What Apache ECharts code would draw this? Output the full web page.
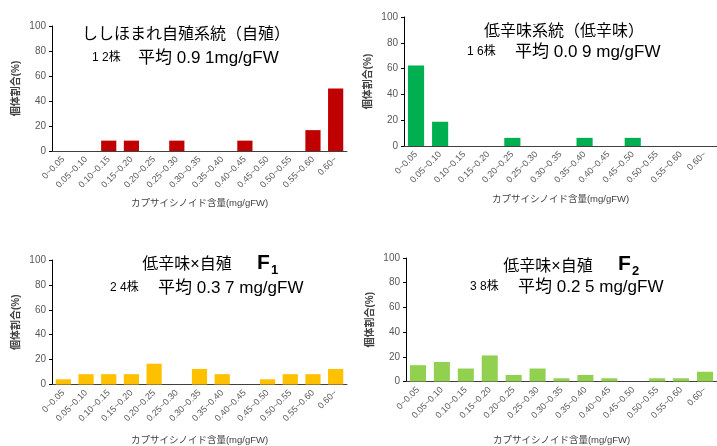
<!DOCTYPE html>
<html>
<head>
<meta charset="utf-8">
<style>
  html, body { margin: 0; padding: 0; background: #fff; }
  #chart { width: 717px; height: 446px; }
</style>
<script src="https://cdn.jsdelivr.net/npm/echarts@6/dist/echarts.min.js"></script>
</head>
<body>
<div id="chart"></div>
<script>
// Capsaicinoid content classes (mg/gFW)
const categories = ['0~0.05', '0.05~0.10', '0.10~0.15', '0.15~0.20', '0.20~0.25', '0.25~0.30',
  '0.30~0.35', '0.35~0.40', '0.40~0.45', '0.45~0.50', '0.50~0.55', '0.55~0.60', '0.60~'];

// Share of plants (%) in each class
const selfedLine = [0, 0, 8.3, 8.3, 0, 8.3, 0, 0, 8.3, 0, 0, 16.7, 50];
const lowPungentLine = [62.5, 18.8, 0, 0, 6.3, 0, 0, 6.3, 0, 6.3, 0, 0, 0];
const crossF1 = [4.2, 8.3, 8.3, 8.3, 16.7, 0, 12.5, 8.3, 0, 4.2, 8.3, 8.3, 12.5];
const crossF2 = [13.2, 15.8, 10.5, 21.1, 5.3, 10.5, 2.6, 5.3, 2.6, 0, 2.6, 2.6, 7.9];

const yTicks = { min: 0, max: 100, interval: 20 };

const xName = 'カプサイシノイド含量(mg/gFW)';
const yName = '個体割合(%)';

const FONT = '"Liberation Sans", Arial, "Noto Sans CJK JP", sans-serif';
const GREY = '#595959';

const panels = [
  { grid: { left: 52, top: 26, width: 295, height: 125 }, nameGap: 48, data: selfedLine, color: '#C00000' },
  { grid: { left: 404, top: 17, width: 316, height: 129 }, nameGap: 49, data: lowPungentLine, color: '#00B050' },
  { grid: { left: 52, top: 260, width: 295, height: 125 }, nameGap: 51, data: crossF1, color: '#FFC000' },
  { grid: { left: 406, top: 258, width: 317, height: 131 }, nameGap: 54, data: crossF2, color: '#92D050' }
];

const grids = [], xAxes = [], yAxes = [], series = [];
panels.forEach((p, i) => {
  grids.push(Object.assign({ containLabel: false }, p.grid));
  xAxes.push({
    type: 'category', gridIndex: i, data: categories,
    name: xName, nameLocation: 'middle', nameGap: p.nameGap,
    nameTextStyle: { fontFamily: FONT, fontSize: 9.5, color: '#404040' },
    axisLine: { lineStyle: { color: '#404040', width: 1 } },
    axisTick: { show: false },
    axisLabel: { rotate: 45, fontSize: 9, color: GREY, fontFamily: FONT, margin: 7, interval: 0 }
  });
  yAxes.push({
    type: 'value', gridIndex: i, min: yTicks.min, max: yTicks.max, interval: yTicks.interval,
    name: yName, nameLocation: 'middle', nameGap: 31, nameRotate: 90,
    nameTextStyle: { fontFamily: FONT, fontSize: 10, color: '#404040', fontWeight: 'bold' },
    axisLine: { show: true, lineStyle: { color: '#000', width: 1 } },
    axisTick: { show: true, length: 3, lineStyle: { color: '#000' } },
    splitLine: { show: false },
    axisLabel: { fontSize: 10, color: GREY, fontFamily: FONT, margin: 6 }
  });
  series.push({
    type: 'bar', xAxisIndex: i, yAxisIndex: i, data: p.data,
    barCategoryGap: '33%', itemStyle: { color: p.color },
    silent: true, animation: false
  });
});

// Panel headings
function txt(x, y, text, size, opts) {
  return {
    type: 'text', x: x, y: y, silent: true,
    style: {
      text: text, font: (opts && opts.weight || 'normal') + ' ' + size + 'px ' + FONT,
      fill: '#000', align: (opts && opts.align) || 'left', verticalAlign: 'middle'
    }
  };
}

const graphic = [
  txt(186, 35, 'ししほまれ自殖系統（自殖）', 16, { align: 'center' }),
  txt(92, 58, '1 2株', 12),
  txt(138, 58, '平均 0.9 1mg/gFW', 17),

  txt(564, 32, '低辛味系統（低辛味）', 16, { align: 'center' }),
  txt(467, 52, '1 6株', 12),
  txt(515, 52, '平均 0.0 9 mg/gFW', 17),

  txt(187, 265, '低辛味×自殖', 16, { align: 'center' }),
  txt(257, 263, 'F', 21, { weight: 'bold' }),
  txt(271, 270, '1', 13, { weight: 'bold' }),
  txt(110, 288, '2 4株', 12),
  txt(158, 288, '平均 0.3 7 mg/gFW', 17),

  txt(548, 267, '低辛味×自殖', 16, { align: 'center' }),
  txt(618, 264, 'F', 21, { weight: 'bold' }),
  txt(632, 271, '2', 13, { weight: 'bold' }),
  txt(470, 287, '3 8株', 12),
  txt(518, 287, '平均 0.2 5 mg/gFW', 17)
];

const chart = echarts.init(document.getElementById('chart'), null, { renderer: 'canvas' });
chart.setOption({
  animation: false,
  backgroundColor: '#fff',
  grid: grids, xAxis: xAxes, yAxis: yAxes, series: series,
  graphic: graphic
});
</script>
</body>
</html>
